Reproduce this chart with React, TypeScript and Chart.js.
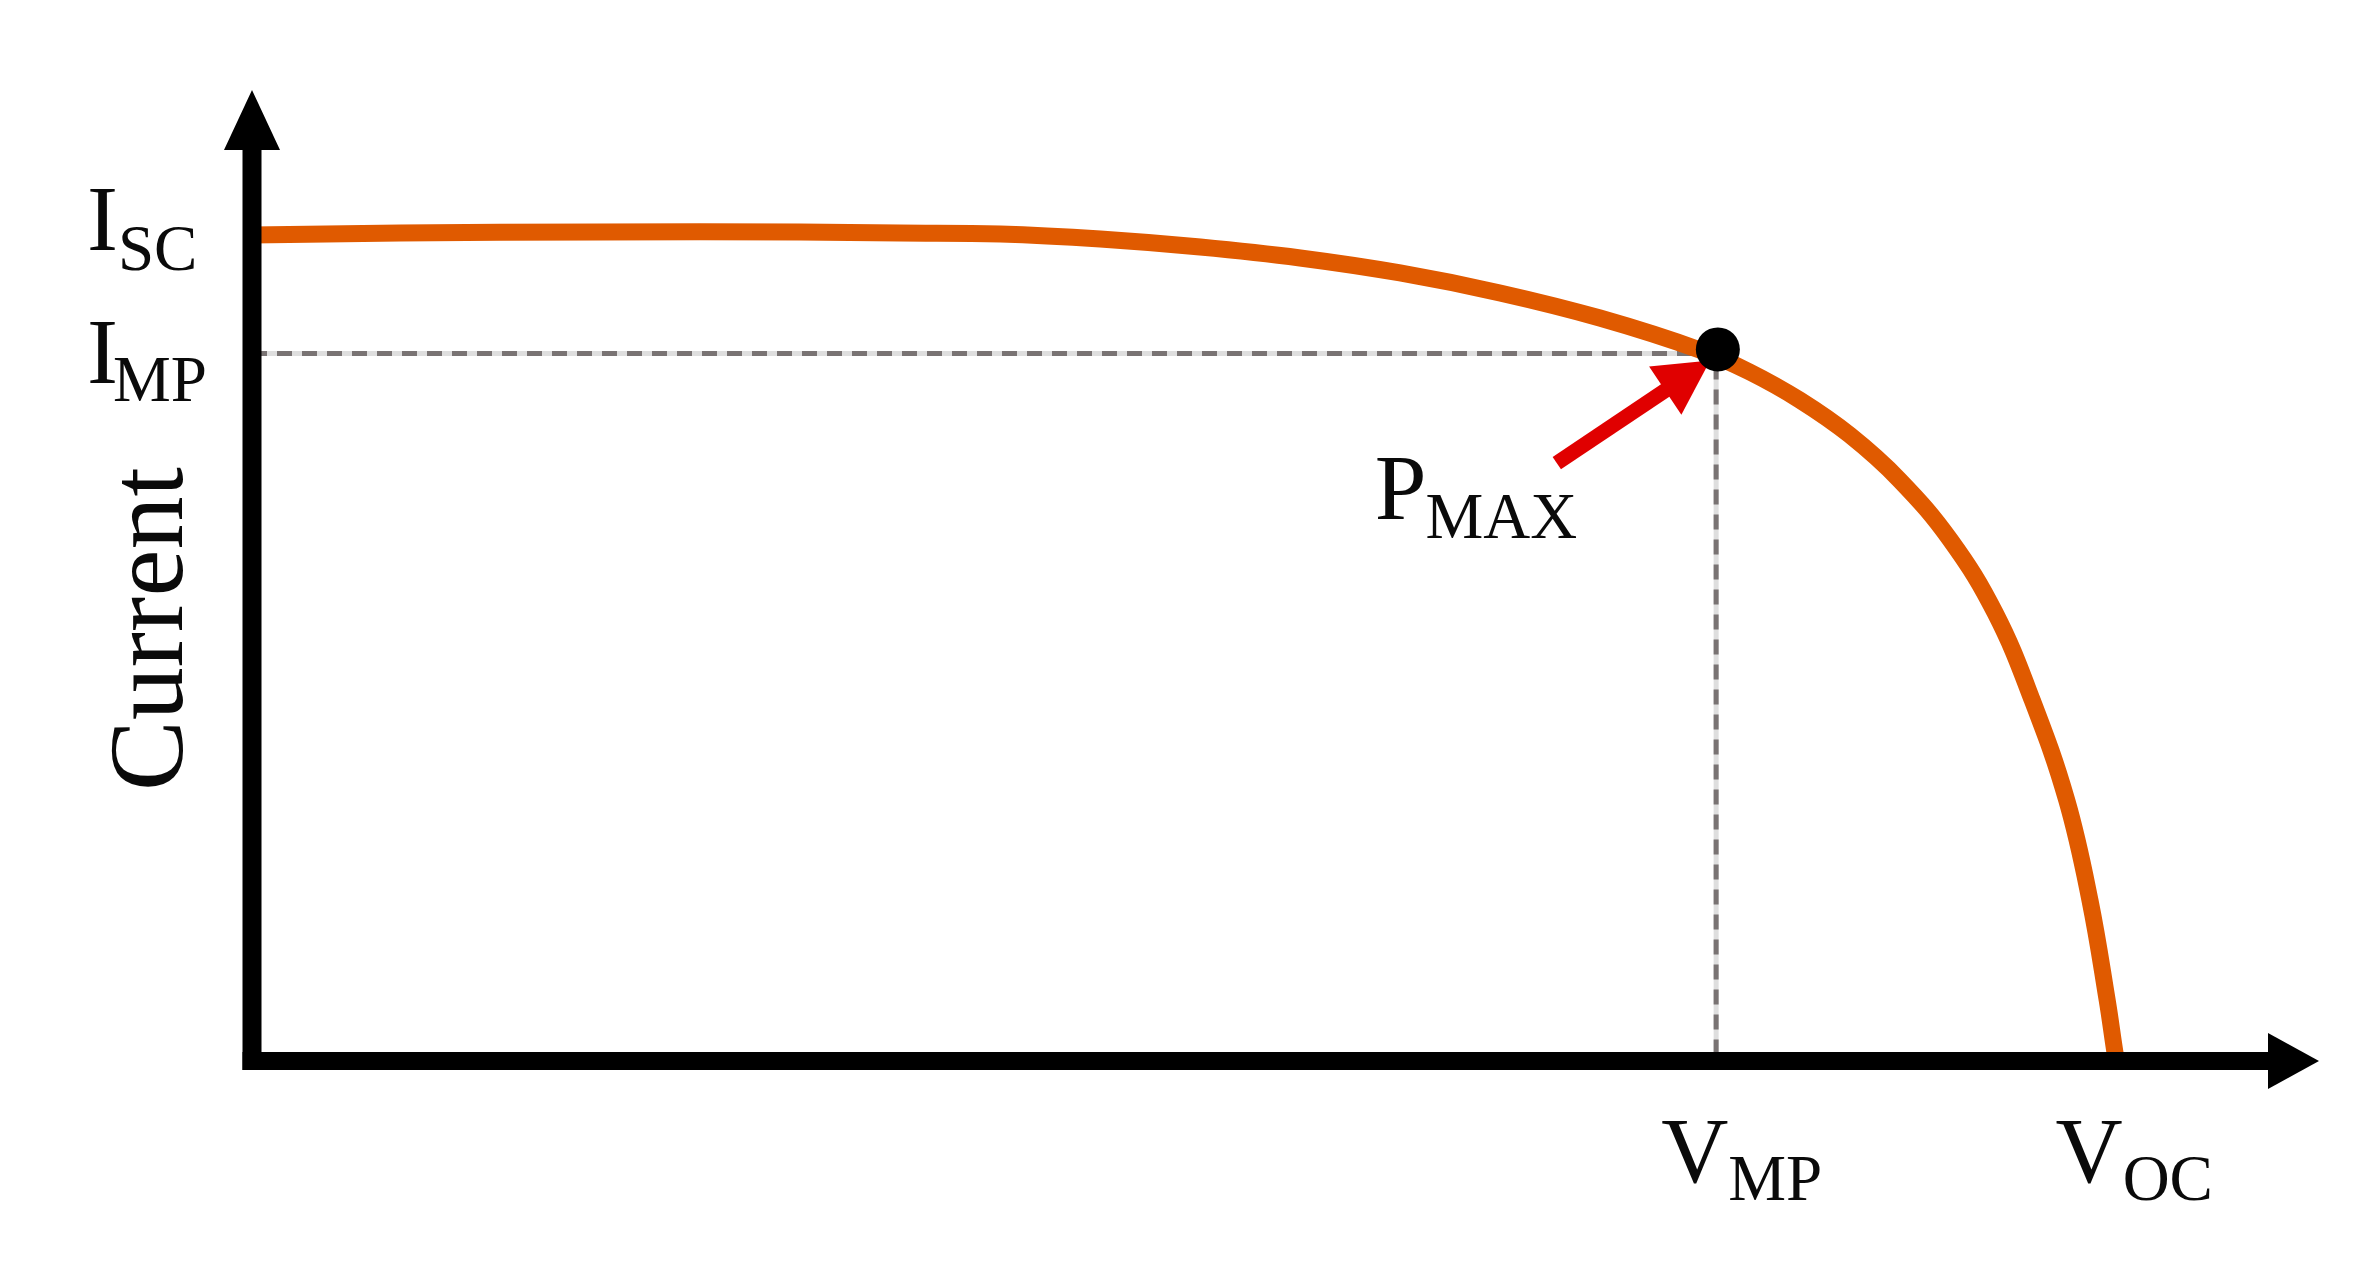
import { useEffect, useRef } from 'react';
import { Chart, registerables } from 'chart.js';

Chart.register(...registerables);

// I-V curve (voltage / current in arbitrary units)
const voltage = [0, 1.72, 4.04, 6.36, 7.52, 8.69, 9.85, 11.01, 12.17, 13.33, 14.49, 15.65, 16.81, 17.39, 17.97, 18.55, 19.13, 19.72, 20.24, 20.67, 21.07, 21.34, 21.54, 21.63, 21.65];
const current = [5.955, 5.969, 5.976, 5.976, 5.969, 5.962, 5.926, 5.868, 5.789, 5.681, 5.537, 5.356, 5.126, 4.967, 4.765, 4.513, 4.188, 3.756, 3.23, 2.602, 1.882, 1.161, 0.44, 0.065, 0];

// Characteristic points
const vmp = 17.0;
const imp = 5.1;
const pmaxV = 17.02;
const pmaxI = 5.13;
const voc = 21.66;
const isc = 5.95;

// Annotation arrow (tail -> tip) in data units
const arrowFrom = [15.15, 4.31];
const arrowTo = [16.93, 5.05];

// Axis ranges
const xRange = [0, 24];
const yRange = [0, 7];

// Tick-like labels (main letter + subscript)
const yLabels = [
  { main: 'I', sub: 'SC' },
  { main: 'I', sub: 'MP' },
];
const xLabels = [
  { main: 'V', sub: 'MP' },
  { main: 'V', sub: 'OC' },
];
const pointLabel = { main: 'P', sub: 'MAX' };
const yTitle = 'Current';

const FONT = '"Liberation Serif", "DejaVu Serif", serif';
const MAIN = 93;
const SUB = 65;

function subLabel(ctx: CanvasRenderingContext2D, x: number, base: number, main: string, sub: string, kern: number, drop: number) {
  ctx.font = `${MAIN}px ${FONT}`;
  ctx.fillText(main, x, base);
  const w = ctx.measureText(main).width;
  ctx.font = `${SUB}px ${FONT}`;
  ctx.fillText(sub, x + w + kern, base + drop);
}

const overlay = {
  id: 'overlay',
  beforeDatasetsDraw(chart: any) {
    const ctx = chart.ctx as CanvasRenderingContext2D;
    const xs = chart.scales.x;
    const ys = chart.scales.y;
    // red annotation arrow
    const tx = xs.getPixelForValue(arrowFrom[0]);
    const ty = ys.getPixelForValue(arrowFrom[1]);
    const hx = xs.getPixelForValue(arrowTo[0]);
    const hy = ys.getPixelForValue(arrowTo[1]);
    const dx = hx - tx;
    const dy = hy - ty;
    const len = Math.hypot(dx, dy);
    const ux = dx / len;
    const uy = dy / len;
    const headL = 54;
    const headW = 29;
    const bx = hx - ux * headL;
    const by = hy - uy * headL;
    ctx.save();
    ctx.strokeStyle = '#E00000';
    ctx.fillStyle = '#E00000';
    ctx.lineWidth = 15;
    ctx.lineCap = 'butt';
    ctx.beginPath();
    ctx.moveTo(tx, ty);
    ctx.lineTo(bx + ux * 4, by + uy * 4);
    ctx.stroke();
    ctx.beginPath();
    ctx.moveTo(hx, hy);
    ctx.lineTo(bx - uy * headW, by + ux * headW);
    ctx.lineTo(bx + uy * headW, by - ux * headW);
    ctx.closePath();
    ctx.fill();
    ctx.restore();
  },
  afterDatasetsDraw(chart: any) {
    const ctx = chart.ctx as CanvasRenderingContext2D;
    const xs = chart.scales.x;
    const ys = chart.scales.y;
    const area = chart.chartArea;
    const x0 = xs.getPixelForValue(0);
    const y0 = ys.getPixelForValue(0);
    ctx.save();
    ctx.fillStyle = '#000';
    ctx.strokeStyle = '#000';
    // x axis
    ctx.lineWidth = 18;
    ctx.lineCap = 'butt';
    ctx.beginPath();
    ctx.moveTo(x0 - 9.5, y0);
    ctx.lineTo(area.right - 48, y0);
    ctx.stroke();
    ctx.beginPath();
    ctx.moveTo(area.right, y0);
    ctx.lineTo(area.right - 51, y0 - 28);
    ctx.lineTo(area.right - 51, y0 + 28);
    ctx.closePath();
    ctx.fill();
    // y axis
    ctx.lineWidth = 19;
    ctx.beginPath();
    ctx.moveTo(x0, y0 + 9);
    ctx.lineTo(x0, area.top + 57);
    ctx.stroke();
    ctx.beginPath();
    ctx.moveTo(x0, area.top);
    ctx.lineTo(x0 - 28, area.top + 60);
    ctx.lineTo(x0 + 28, area.top + 60);
    ctx.closePath();
    ctx.fill();

    // labels
    ctx.fillStyle = '#0a0a0a';
    ctx.textBaseline = 'alphabetic';
    ctx.textAlign = 'left';
    subLabel(ctx, x0 - 165, ys.getPixelForValue(isc) + 14, yLabels[0].main, yLabels[0].sub, 0, 20);
    subLabel(ctx, x0 - 165, ys.getPixelForValue(imp) + 29, yLabels[1].main, yLabels[1].sub, -5, 18);
    subLabel(ctx, xs.getPixelForValue(vmp) - 55, y0 + 121, xLabels[0].main, xLabels[0].sub, 0, 18);
    subLabel(ctx, xs.getPixelForValue(voc) - 62, y0 + 121, xLabels[1].main, xLabels[1].sub, 0, 18);
    subLabel(
      ctx,
      xs.getPixelForValue(arrowFrom[0]) - 182,
      ys.getPixelForValue(arrowFrom[1]) + 56,
      pointLabel.main,
      pointLabel.sub,
      -1,
      19
    );
    // y title
    ctx.save();
    ctx.translate(x0 - 70, y0 - 432);
    ctx.rotate(-Math.PI / 2);
    ctx.textAlign = 'center';
    ctx.font = `106px ${FONT}`;
    ctx.fillText(yTitle, 0, 0);
    ctx.restore();
    ctx.restore();
  },
};

export default function App() {
  const ref = useRef<HTMLCanvasElement>(null);
  useEffect(() => {
    document.body.style.margin = '0';
    const curve = voltage.map((v, i) => ({ x: v, y: current[i] }));
    const guide = [
      { x: 0, y: imp },
      { x: vmp, y: imp },
      { x: vmp, y: 0 },
    ];
    const chart = new Chart(ref.current as HTMLCanvasElement, {
      type: 'line',
      data: {
        datasets: [
          {
            data: [{ x: pmaxV, y: pmaxI }],
            showLine: false,
            pointRadius: 22,
            pointBackgroundColor: '#000',
            pointBorderWidth: 0,
            order: 0,
          },
          {
            data: curve,
            borderColor: '#E05A00',
            borderWidth: 17,
            pointRadius: 0,
            tension: 0.4,
            borderCapStyle: 'butt',
            borderJoinStyle: 'round',
            fill: false,
            order: 1,
          },
          {
            data: guide,
            borderColor: '#797373',
            borderWidth: 5,
            borderDash: [15, 10],
            pointRadius: 0,
            tension: 0,
            fill: false,
            order: 2,
          },
          {
            data: guide,
            borderColor: '#dedede',
            borderWidth: 5,
            pointRadius: 0,
            tension: 0,
            fill: false,
            order: 3,
          },
        ] as any,
      },
      options: {
        responsive: false,
        devicePixelRatio: 1,
        animation: false,
        clip: false as any,
        layout: { padding: { left: 252, top: 90, right: 42, bottom: 208 } },
        plugins: { legend: { display: false }, tooltip: { enabled: false } },
        scales: {
          x: { type: 'linear', min: xRange[0], max: xRange[1], display: false },
          y: { type: 'linear', min: yRange[0], max: yRange[1], display: false },
        },
      },
      plugins: [overlay],
    });
    return () => chart.destroy();
  }, []);
  return (
    <canvas
      ref={ref}
      width={2361}
      height={1269}
      style={{ display: 'block', width: '2361px', height: '1269px', background: '#fff' }}
    />
  );
}
